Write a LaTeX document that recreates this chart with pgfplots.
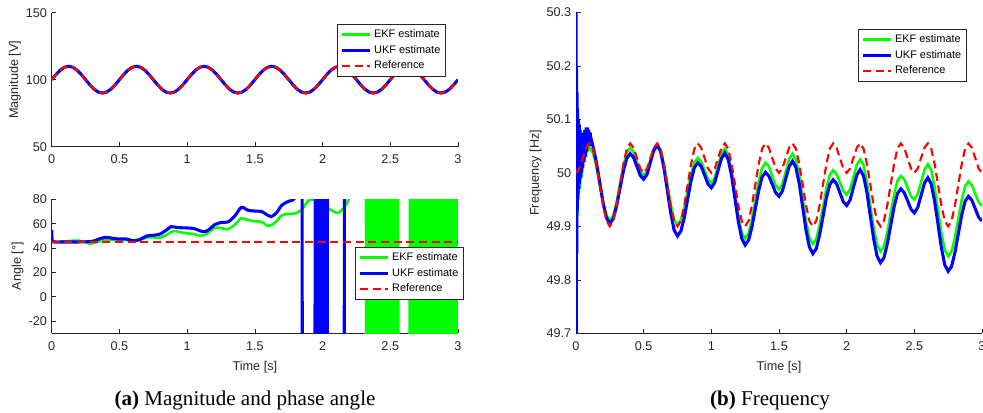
\documentclass[border=0pt]{standalone}
\usepackage{fontspec}
\setmainfont{Liberation Sans}
\newfontfamily\capfont{Liberation Serif}
\usepackage{pgfplots}
\usepackage{pgfplotstable}
\pgfplotsset{compat=1.18}

\definecolor{axgray}{rgb}{0.15,0.15,0.15}
\definecolor{ekfc}{rgb}{0,1,0}
\definecolor{ukfc}{rgb}{0,0,1}
\definecolor{refc}{rgb}{1,0,0}

% magnitude (all three estimates lie on the same curve)
\pgfplotstableread[row sep=\\]{
t v\\
0 100\\0.03125 103.83\\0.0625 107.07\\0.09375 109.24\\0.125 110\\0.15625 109.24\\0.1875 107.07\\0.21875 103.83\\0.25 100\\0.28125 96.17\\0.3125 92.93\\0.34375 90.76\\0.375 90\\0.40625 90.76\\0.4375 92.93\\0.46875 96.17\\
0.5 100\\0.53125 103.83\\0.5625 107.07\\0.59375 109.24\\0.625 110\\0.65625 109.24\\0.6875 107.07\\0.71875 103.83\\0.75 100\\0.78125 96.17\\0.8125 92.93\\0.84375 90.76\\0.875 90\\0.90625 90.76\\0.9375 92.93\\0.96875 96.17\\
1 100\\1.03125 103.83\\1.0625 107.07\\1.09375 109.24\\1.125 110\\1.15625 109.24\\1.1875 107.07\\1.21875 103.83\\1.25 100\\1.28125 96.17\\1.3125 92.93\\1.34375 90.76\\1.375 90\\1.40625 90.76\\1.4375 92.93\\1.46875 96.17\\
1.5 100\\1.53125 103.83\\1.5625 107.07\\1.59375 109.24\\1.625 110\\1.65625 109.24\\1.6875 107.07\\1.71875 103.83\\1.75 100\\1.78125 96.17\\1.8125 92.93\\1.84375 90.76\\1.875 90\\1.90625 90.76\\1.9375 92.93\\1.96875 96.17\\
2 100\\2.03125 103.83\\2.0625 107.07\\2.09375 109.24\\2.125 110\\2.15625 109.24\\2.1875 107.07\\2.21875 103.83\\2.25 100\\2.28125 96.17\\2.3125 92.93\\2.34375 90.76\\2.375 90\\2.40625 90.76\\2.4375 92.93\\2.46875 96.17\\
2.5 100\\2.53125 103.83\\2.5625 107.07\\2.59375 109.24\\2.625 110\\2.65625 109.24\\2.6875 107.07\\2.71875 103.83\\2.75 100\\2.78125 96.17\\2.8125 92.93\\2.84375 90.76\\2.875 90\\2.90625 90.76\\2.9375 92.93\\2.96875 96.17\\
3 100\\
}\magtab

% frequency, EKF
\pgfplotstableread[row sep=\\]{
t f\\
0 50.00\\0.003 50.16\\0.006 49.85\\0.009 50.12\\0.012 49.92\\0.016 50.08\\0.020 49.95\\0.025 50.05\\0.030 49.97\\0.035 50.04\\0.040 49.99\\0.050 50.03\\0.060 50.025\\0.075 50.038\\
0.100 50.047\\0.125 50.038\\0.150 50.013\\0.175 49.979\\0.200 49.945\\0.225 49.920\\0.250 49.911\\0.275 49.920\\0.300 49.945\\0.325 49.979\\0.350 50.013\\0.375 50.038\\0.400 50.047\\0.425 50.039\\0.450 50.021\\0.475 50.003\\
0.500 49.995\\0.525 50.003\\0.550 50.024\\0.575 50.045\\0.600 50.053\\0.625 50.043\\0.650 50.016\\0.675 49.978\\0.700 49.941\\0.725 49.913\\0.750 49.903\\0.775 49.911\\0.800 49.934\\0.825 49.966\\0.850 49.997\\0.875 50.020\\0.900 50.028\\0.925 50.021\\0.950 50.005\\0.975 49.988\\
1.000 49.981\\1.025 49.990\\1.050 50.013\\1.075 50.036\\1.100 50.045\\1.125 50.034\\1.150 50.003\\1.175 49.961\\1.200 49.919\\1.225 49.888\\1.250 49.877\\1.275 49.887\\1.300 49.913\\1.325 49.948\\1.350 49.984\\1.375 50.009\\1.400 50.019\\1.425 50.012\\1.450 49.994\\1.475 49.976\\
1.500 49.969\\1.525 49.979\\1.550 50.003\\1.575 50.026\\1.600 50.036\\1.625 50.025\\1.650 49.994\\1.675 49.952\\1.700 49.909\\1.725 49.878\\1.750 49.867\\1.775 49.876\\1.800 49.902\\1.825 49.936\\1.850 49.971\\1.875 49.996\\1.900 50.005\\1.925 49.998\\1.950 49.982\\1.975 49.966\\
2.000 49.959\\2.025 49.969\\2.050 49.992\\2.075 50.015\\2.100 50.025\\2.125 50.014\\2.150 49.982\\2.175 49.939\\2.200 49.896\\2.225 49.865\\2.250 49.853\\2.275 49.862\\2.300 49.888\\2.325 49.924\\2.350 49.959\\2.375 49.985\\2.400 49.994\\2.425 49.988\\2.450 49.972\\2.475 49.956\\
2.500 49.950\\2.525 49.960\\2.550 49.983\\2.575 50.006\\2.600 50.016\\2.625 50.005\\2.650 49.973\\2.675 49.930\\2.700 49.887\\2.725 49.856\\2.750 49.844\\2.775 49.853\\2.800 49.879\\2.825 49.914\\2.850 49.949\\2.875 49.975\\2.900 49.984\\2.925 49.977\\2.950 49.961\\2.975 49.945\\3.000 49.938\\
}\ekftab

% frequency, UKF
\pgfplotstableread[row sep=\\]{
t f\\
0.000 50.35\\0.002 49.65\\0.004 50.20\\0.006 49.85\\0.008 50.15\\0.010 49.93\\0.012 50.12\\0.015 49.96\\0.018 50.10\\0.021 49.97\\0.024 50.09\\0.027 49.98\\0.030 50.08\\0.034 49.99\\0.038 50.075\\0.042 50.00\\0.046 50.07\\0.050 50.01\\0.055 50.075\\0.060 50.02\\0.065 50.08\\0.070 50.03\\0.075 50.085\\0.080 50.04\\0.085 50.085\\0.090 50.05\\0.095 50.08\\0.100 50.055\\0.105 50.075\\0.110 50.05\\0.115 50.06\\
0.125 50.050\\0.150 50.021\\0.175 49.983\\0.200 49.944\\0.225 49.916\\0.250 49.905\\0.275 49.914\\0.300 49.938\\0.325 49.971\\0.350 50.003\\0.375 50.027\\0.400 50.036\\0.425 50.029\\0.450 50.012\\0.475 49.995\\
0.500 49.988\\0.525 49.997\\0.550 50.020\\0.575 50.042\\0.600 50.051\\0.625 50.040\\0.650 50.009\\0.675 49.967\\0.700 49.925\\0.725 49.893\\0.750 49.882\\0.775 49.891\\0.800 49.916\\0.825 49.951\\0.850 49.985\\0.875 50.010\\0.900 50.019\\0.925 50.012\\0.950 49.996\\0.975 49.979\\
1.000 49.972\\1.025 49.982\\1.050 50.005\\1.075 50.027\\1.100 50.037\\1.125 50.025\\1.150 49.994\\1.175 49.951\\1.200 49.908\\1.225 49.877\\1.250 49.865\\1.275 49.874\\1.300 49.899\\1.325 49.933\\1.350 49.967\\1.375 49.992\\1.400 50.001\\1.425 49.994\\1.450 49.979\\1.475 49.963\\
1.500 49.956\\1.525 49.966\\1.550 49.989\\1.575 50.012\\1.600 50.022\\1.625 50.010\\1.650 49.979\\1.675 49.936\\1.700 49.892\\1.725 49.861\\1.750 49.849\\1.775 49.858\\1.800 49.884\\1.825 49.918\\1.850 49.953\\1.875 49.978\\1.900 49.987\\1.925 49.980\\1.950 49.963\\1.975 49.946\\
2.000 49.939\\2.025 49.949\\2.050 49.973\\2.075 49.996\\2.100 50.006\\2.125 49.994\\2.150 49.963\\2.175 49.919\\2.200 49.876\\2.225 49.844\\2.250 49.832\\2.275 49.841\\2.300 49.867\\2.325 49.901\\2.350 49.936\\2.375 49.961\\2.400 49.970\\2.425 49.963\\2.450 49.948\\2.475 49.932\\
2.500 49.925\\2.525 49.935\\2.550 49.958\\2.575 49.981\\2.600 49.991\\2.625 49.979\\2.650 49.947\\2.675 49.904\\2.700 49.860\\2.725 49.828\\2.750 49.816\\2.775 49.825\\2.800 49.851\\2.825 49.886\\2.850 49.921\\2.875 49.947\\2.900 49.956\\2.925 49.949\\2.950 49.933\\2.975 49.917\\3.000 49.910\\
}\ukftab

% frequency, reference
\pgfplotstableread[row sep=\\]{
t f\\
0.000 50.000\\0.025 50.008\\0.050 50.028\\0.075 50.047\\0.100 50.055\\0.125 50.045\\0.150 50.016\\0.175 49.978\\0.200 49.939\\0.225 49.910\\0.250 49.900\\0.275 49.910\\0.300 49.939\\0.325 49.978\\0.350 50.016\\0.375 50.045\\0.400 50.055\\0.425 50.047\\0.450 50.028\\0.475 50.008\\
0.500 50.000\\0.525 50.008\\0.550 50.028\\0.575 50.047\\0.600 50.055\\0.625 50.045\\0.650 50.016\\0.675 49.978\\0.700 49.939\\0.725 49.910\\0.750 49.900\\0.775 49.910\\0.800 49.939\\0.825 49.978\\0.850 50.016\\0.875 50.045\\0.900 50.055\\0.925 50.047\\0.950 50.028\\0.975 50.008\\
1.000 50.000\\1.025 50.008\\1.050 50.028\\1.075 50.047\\1.100 50.055\\1.125 50.045\\1.150 50.016\\1.175 49.978\\1.200 49.939\\1.225 49.910\\1.250 49.900\\1.275 49.910\\1.300 49.939\\1.325 49.978\\1.350 50.016\\1.375 50.045\\1.400 50.055\\1.425 50.047\\1.450 50.028\\1.475 50.008\\
1.500 50.000\\1.525 50.008\\1.550 50.028\\1.575 50.047\\1.600 50.055\\1.625 50.045\\1.650 50.016\\1.675 49.978\\1.700 49.939\\1.725 49.910\\1.750 49.900\\1.775 49.910\\1.800 49.939\\1.825 49.978\\1.850 50.016\\1.875 50.045\\1.900 50.055\\1.925 50.047\\1.950 50.028\\1.975 50.008\\
2.000 50.000\\2.025 50.008\\2.050 50.028\\2.075 50.047\\2.100 50.055\\2.125 50.045\\2.150 50.016\\2.175 49.978\\2.200 49.939\\2.225 49.910\\2.250 49.900\\2.275 49.910\\2.300 49.939\\2.325 49.978\\2.350 50.016\\2.375 50.045\\2.400 50.055\\2.425 50.047\\2.450 50.028\\2.475 50.008\\
2.500 50.000\\2.525 50.008\\2.550 50.028\\2.575 50.047\\2.600 50.055\\2.625 50.045\\2.650 50.016\\2.675 49.978\\2.700 49.939\\2.725 49.910\\2.750 49.900\\2.775 49.910\\2.800 49.939\\2.825 49.978\\2.850 50.016\\2.875 50.045\\2.900 50.055\\2.925 50.047\\2.950 50.028\\2.975 50.008\\3.000 50.000\\
}\reftab

\pgfplotsset{
  mlab/.style={
    scale only axis,
    axis x line*=bottom, axis y line*=left,
    xtick pos=bottom, ytick pos=left,
    tick align=inside,
    major tick length=3.5pt,
    axis line style={draw=axgray, line width=0.5pt},
    tick style={draw=axgray, line width=0.5pt},
    tick label style={font=\fontsize{9.5}{11}\selectfont, text=axgray},
    label style={font=\fontsize{9.5}{11}\selectfont, text=axgray},
    xticklabel shift=2.5pt,
    xlabel shift=1pt,
    ylabel shift=-3pt,
    /pgf/number format/assume math mode=true,
    xmin=0, xmax=3, xtick={0,0.5,1,1.5,2,2.5,3},
    legend style={draw=axgray, line width=0.5pt, fill=white,
      font=\fontsize{8.2}{9.8}\selectfont, text=black,
      inner xsep=2pt, inner ysep=1.8pt, row sep=0.4pt, cells={anchor=west}},
    legend image code/.code={\draw[#1] (0pt,0pt) -- (21pt,0pt);},
  },
  ekfline/.style={color=ekfc, line width=1.9pt},
  ukfline/.style={color=ukfc, line width=2.3pt},
  refline/.style={color=refc, line width=1.6pt, dash pattern=on 6pt off 3.5pt},
}

\begin{document}
\begin{tikzpicture}
\path[use as bounding box] (0pt,0pt) rectangle (737.25pt,309pt);

% (a) top: magnitude
\begin{axis}[mlab, at={(38.8pt,199pt)}, anchor=south west,
  width=304.7pt, height=100.5pt,
  ymin=50, ymax=150, ytick={50,100,150},
  ylabel={Magnitude [V]},
  legend style={at={(0.9705,0.9157)}, anchor=north east}]
\addplot[ekfline] table[x=t, y=v] {\magtab};
\addplot[ukfline] table[x=t, y=v] {\magtab};
\addplot[refline] table[x=t, y=v] {\magtab};
\legend{EKF estimate, UKF estimate, Reference}
\end{axis}

% (a) bottom: phase angle
\begin{axis}[mlab, at={(38.8pt,59pt)}, anchor=south west,
  width=304.7pt, height=100.5pt,
  ymin=-30, ymax=80, ytick={-20,0,20,40,60,80},
  ylabel={Angle [°]}, xlabel={Time [s]},
  legend style={at={(1.0148,0.644)}, anchor=north east}]
\addplot[ekfline, smooth] coordinates {
(0,45) (0.05,45.3) (0.1,45.5) (0.15,46) (0.2,46) (0.25,45) (0.28,43.5) (0.32,44.5)
(0.36,46) (0.4,47) (0.45,46.8) (0.5,46.5) (0.55,46.5) (0.6,46) (0.65,46.5) (0.7,48.5)
(0.75,48.8) (0.8,48.5) (0.85,51) (0.9,54) (0.95,53) (1.0,52) (1.05,51.5) (1.1,50)
(1.15,52) (1.2,56.5) (1.25,56.5) (1.3,55.5) (1.35,59) (1.4,64.5) (1.45,63) (1.5,62)
(1.55,61.5) (1.6,58) (1.65,61) (1.7,67) (1.75,68) (1.8,68.5) (1.85,72) (1.88,77)
(1.9,79.3) (1.95,79.5) (2.0,75) (2.05,72) (2.1,69) (2.13,70) (2.17,75) (2.2,82) (2.25,100)};
\addplot[ekfline, forget plot] coordinates {
(2.25,100) (2.32,100)
(2.325,-150) (2.335,100) (2.345,-150) (2.355,100) (2.365,-150) (2.375,100) (2.385,-150) (2.395,100)
(2.405,-150) (2.415,100) (2.425,-150) (2.435,100) (2.445,-150) (2.455,100) (2.465,-150) (2.475,100)
(2.485,-150) (2.495,100) (2.505,-150) (2.515,100) (2.525,-150) (2.535,100) (2.545,-150) (2.555,100)
(2.565,-150) (2.64,-150)
(2.645,100) (2.655,-150) (2.665,100) (2.675,-150) (2.685,100) (2.695,-150) (2.705,100) (2.715,-150)
(2.725,100) (2.735,-150) (2.745,100) (2.755,-150) (2.765,100) (2.775,-150) (2.785,100) (2.795,-150)
(2.805,100) (2.815,-150) (2.825,100) (2.835,-150) (2.845,100) (2.855,-150) (2.865,100) (2.875,-150)
(2.885,100) (2.895,-150) (2.905,100) (2.915,-150) (2.925,100) (2.935,-150) (2.945,100) (2.955,-150)
(2.965,100) (2.975,-150) (2.985,100) (2.995,-150) (3.0,100)};
\addplot[ukfline, smooth] coordinates {
(0,55) (0.004,46) (0.02,45) (0.1,45) (0.2,45) (0.3,45.5) (0.35,47.5) (0.4,48.8)
(0.45,48) (0.5,47.4) (0.55,47.5) (0.6,46) (0.65,47) (0.7,49.9) (0.75,50.5) (0.8,51.5)
(0.85,55) (0.88,57.5) (0.92,57) (0.95,56.7) (1.0,56.5) (1.05,56) (1.12,53.4) (1.16,55)
(1.2,59) (1.25,61) (1.3,61.4) (1.35,66) (1.4,73.4) (1.45,71) (1.5,70.4) (1.55,70)
(1.58,68) (1.62,65.8) (1.66,69) (1.7,75.3) (1.75,78.4) (1.78,79.5) (1.8,82) (1.84,90)};
\addplot[ukfline, forget plot] coordinates {
(1.84,90) (1.848,100) (1.852,-150) (1.942,-150)
(1.946,100) (1.950,-150) (1.954,100) (1.958,-150) (1.962,100) (1.966,-150) (1.970,100) (1.974,-150)
(1.978,100) (1.982,-150) (1.986,100) (1.990,-150) (1.994,100) (1.998,-150) (2.002,100) (2.006,-150)
(2.010,100) (2.014,-150) (2.018,100) (2.022,-150) (2.026,100) (2.030,-150) (2.034,100) (2.038,-150)
(2.158,-150) (2.162,100) (3.0,100)};
\addplot[refline] coordinates {(0,45) (3,45)};
\legend{EKF estimate, UKF estimate, Reference}
\end{axis}

% (b) frequency
\begin{axis}[mlab, at={(432pt,59pt)}, anchor=south west,
  width=304.5pt, height=240.75pt,
  ymin=49.7, ymax=50.3, ytick={49.7,49.8,49.9,50,50.1,50.2,50.3},
  ylabel={Frequency [Hz]}, xlabel={Time [s]},
  legend style={at={(0.963,0.948)}, anchor=north east}]
\addplot[ekfline] table[x=t, y=f] {\ekftab};
\addplot[ukfline] table[x=t, y=f] {\ukftab};
\addplot[refline] table[x=t, y=f] {\reftab};
\legend{EKF estimate, UKF estimate, Reference}
\end{axis}

\node[font=\capfont\fontsize{15.8}{19}\selectfont] at (183.75pt,8.8pt) {\textbf{(a)} Magnitude and phase angle};
\node[font=\capfont\fontsize{15.8}{19}\selectfont] at (577.5pt,8.8pt) {\textbf{(b)} Frequency};
\end{tikzpicture}
\end{document}
